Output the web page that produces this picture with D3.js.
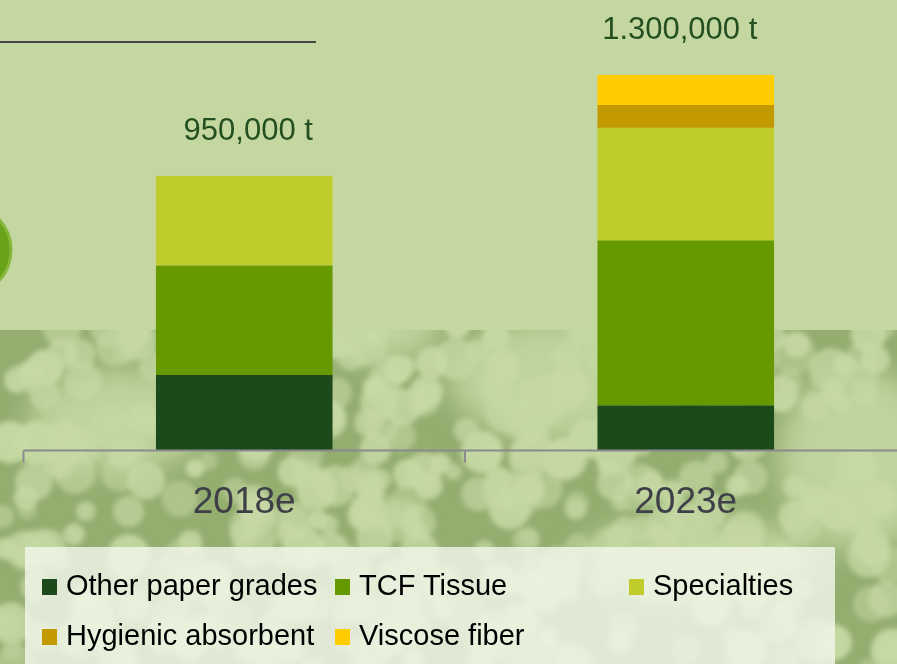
<!DOCTYPE html>
<html>
<head>
<meta charset="utf-8">
<script src="https://cdn.jsdelivr.net/npm/d3@7"></script>
<style>
	html, body { margin:0; padding:0; background:#c5d7a0; }
	svg { display:block; font-family:"Liberation Sans", Arial, sans-serif; }
</style>
</head>
<body>
<svg id="chart" width="897" height="664"></svg>
<script>

// data, thousand tonnes
var years      = ["2018e", "2023e"];
var series     = ["Other paper grades", "TCF Tissue", "Specialties", "Hygienic absorbent", "Viscose fiber"];
var colors     = ["#1d4a1b", "#669900", "#c0cc2c", "#c29a00", "#ffcc00"];
var otherPaper = [260, 155];
var tcfTissue  = [380, 572];
var specialty  = [310, 390];
var hygienic   = [0, 79];
var viscose    = [0, 104];
var totalLabels = ["950,000 t", "1.300,000 t"];


class StackChart{
	constructor(svg,width,height) {
		this.svg = svg; this.width = width; this.height = height;
		this.DOM = this.svg.append("g").attr("class","stack");

		this.table = years.map(function(y,i){
			return {year:y, "Other paper grades":otherPaper[i], "TCF Tissue":tcfTissue[i],
				"Specialties":specialty[i], "Hygienic absorbent":hygienic[i], "Viscose fiber":viscose[i]};
		});
		this.stack = d3.stack().keys(series)(this.table);

		this.xScale = d3.scaleBand().domain(years).range([23.5, 906.5]).padding(0);
		this.yScale = d3.scaleLinear().domain([0, 1300]).range([450, 75]);
		this.color  = d3.scaleOrdinal().domain(series).range(colors);

		this.Draw_background();
		this.Draw_bars();
		this.Draw_axis();
		this.Draw_legend();
	}

	Draw_background(){
		var defs = this.svg.append("defs");
		defs.append("filter").attr("id","blur")
			.append("feGaussianBlur").attr("stdDeviation",2.5);
		defs.append("filter").attr("id","blur2")
			.append("feGaussianBlur").attr("stdDeviation",14);
		defs.append("clipPath").attr("id","lower")
			.append("rect").attr("x",0).attr("y",330).attr("width",this.width).attr("height",this.height-330);

		var bg = this.svg.insert("g",":first-child").attr("class","bg");
		bg.append("rect").attr("width",this.width).attr("height",this.height).style("fill","#c5d7a0");

		// blurred leafy texture in the lower half (decoration only)
		var tex = bg.append("g").attr("clip-path","url(#lower)");
		tex.append("rect").attr("x",0).attr("y",330).attr("width",this.width).attr("height",this.height-330)
			.style("fill","#94ae70");
		var hash = function(n){ var s = Math.sin(n*127.1)*43758.5453; return s - Math.floor(s); };
		var dots = d3.range(0, 420).map(function(k){
			return {x: hash(k+1)*this.width, y: 325 + hash(k+501)*345,
				r: 8 + hash(k+901)*14, o: 0.45 + hash(k+1301)*0.5};
		}, this);
		// a few soft light patches
		var patches = [[560,380,110,60],[120,420,90,50],[860,460,80,90],[700,560,120,40],[380,330,60,30]];
		tex.append("g").attr("filter","url(#blur2)")
			.selectAll("ellipse").data(patches).join("ellipse")
				.attr("cx",function(d){return d[0]}).attr("cy",function(d){return d[1]})
				.attr("rx",function(d){return d[2]}).attr("ry",function(d){return d[3]})
				.style("fill","#c4d8a2").style("opacity",0.9);
		tex.append("g").attr("filter","url(#blur)")
			.selectAll("circle").data(dots).join("circle")
				.attr("cx",function(d){return d.x})
				.attr("cy",function(d){return d.y})
				.attr("r",function(d){return d.r})
				.style("fill","#c6d9a4")
				.style("opacity",function(d){return d.o});

		// title rule and the round marker on the left
		bg.append("line").attr("x1",0).attr("x2",316).attr("y1",42).attr("y2",42)
			.style("stroke","#454545").style("stroke-width",2);
		bg.append("circle").attr("cx",-34).attr("cy",250).attr("r",45)
			.style("fill","#6aa31a").style("stroke","#86b63a").style("stroke-width",3);
	}

	Draw_bars(){
		var t = this;
		var bw = this.xScale.bandwidth()*0.4;

		this.DOM.selectAll("g.layer").data(this.stack).join("g")
			.attr("class","layer")
			.style("fill",function(d){return t.color(d.key)})
			.selectAll("rect").data(function(d){return d}).join("rect")
				.attr("x",function(d){return t.xScale(d.data.year) + (t.xScale.bandwidth()-bw)/2})
				.attr("y",function(d){return t.yScale(d[1])})
				.attr("width",bw)
				.attr("height",function(d){return t.yScale(d[0]) - t.yScale(d[1])});

		// totals sit a bit off-centre in the original
		var shift = [4, -6];
		var top = this.stack[this.stack.length-1];
		this.DOM.selectAll("text.total").data(top).join("text")
			.attr("class","total")
			.attr("x",function(d,i){return t.xScale(d.data.year) + t.xScale.bandwidth()/2 + shift[i]})
			.attr("y",function(d){return t.yScale(d[1]) - 36})
			.attr("text-anchor","middle")
			.style("font-size","31px")
			.style("fill","#245021")
			.text(function(d,i){return totalLabels[i]});
	}

	Draw_axis(){
		var t = this;
		var y0 = this.yScale(0) + 0.5;
		var ax = this.DOM.append("g").attr("class","axis");
		ax.append("line").attr("x1",this.xScale.range()[0]).attr("x2",this.width)
			.attr("y1",y0).attr("y2",y0)
			.style("stroke","#8a8a90").style("stroke-width",2);
		var edges = years.map(function(y){return t.xScale(y)}).concat([this.xScale.range()[1]]);
		ax.selectAll("line.tick").data(edges).join("line").attr("class","tick")
			.attr("x1",function(d){return d}).attr("x2",function(d){return d})
			.attr("y1",y0).attr("y2",y0+12)
			.style("stroke","#8a8a90").style("stroke-width",2);
		ax.selectAll("text").data(years).join("text")
			.attr("x",function(d){return t.xScale(d) + t.xScale.bandwidth()/2})
			.attr("y",513)
			.attr("text-anchor","middle")
			.style("font-size","37px")
			.style("fill","#3f3f48")
			.text(function(d){return d});
	}

	Draw_legend(){
		var t = this;
		var lg = this.svg.append("g").attr("class","legend");
		lg.append("rect").attr("x",25).attr("y",547).attr("width",810).attr("height",130)
			.style("fill","#f2f6ea").style("opacity",0.82);

		var colX = [42, 335, 629],
			pos = [[0,0],[1,0],[2,0],[0,1],[1,1]];
		var item = lg.selectAll("g.item").data(series).join("g")
			.attr("class","item")
			.attr("transform",function(d,i){return "translate(" + colX[pos[i][0]] + "," + (595 + pos[i][1]*50) + ")"});
		item.append("rect").attr("x",0).attr("y",-16).attr("width",15).attr("height",16)
			.style("fill",function(d){return t.color(d)});
		item.append("text").attr("x",24).attr("y",0)
			.style("font-size","29px").style("fill","#000")
			.text(function(d){return d});
	}
}

new StackChart(d3.select("#chart"), 897, 664);
</script>
</body>
</html>
